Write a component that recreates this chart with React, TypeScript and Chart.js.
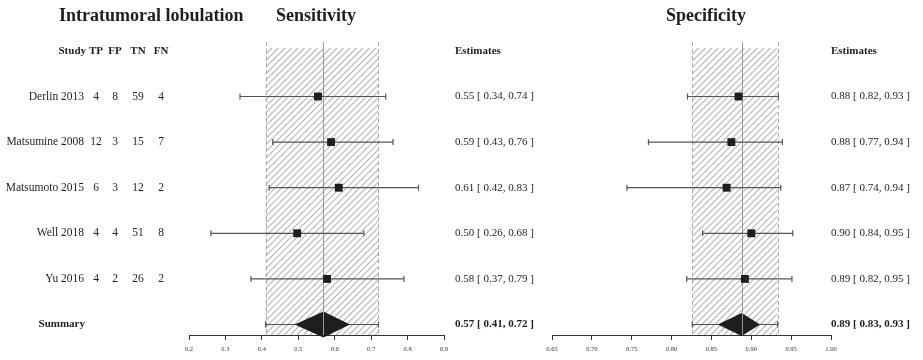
import React, { useEffect, useRef } from "react";
import { Chart, registerables } from "chart.js";

Chart.register(...registerables);

// ---------- data ----------
const studies = ["Derlin 2013", "Matsumine 2008", "Matsumoto 2015", "Well 2018", "Yu 2016"];
const tpCounts = [4, 12, 6, 4, 4];
const fpCounts = [8, 3, 3, 4, 2];
const tnCounts = [59, 15, 12, 51, 26];
const fnCounts = [4, 7, 2, 8, 2];

const sensEst = [0.554, 0.59, 0.611, 0.497, 0.579];
const sensLo = [0.34, 0.43, 0.42, 0.26, 0.37];
const sensHi = [0.74, 0.76, 0.83, 0.68, 0.79];
const sensSummary = [0.569, 0.41, 0.72]; // estimate, lower, upper
const sensDiamond = [0.49, 0.642];
const sensTicks = [0.2, 0.3, 0.4, 0.5, 0.6, 0.7, 0.8, 0.9];
const sensTickLabels = ["0.2", "0.3", "0.4", "0.5", "0.6", "0.7", "0.8", "0.9"];
const sensText = [
  "0.55 [ 0.34, 0.74 ]",
  "0.59 [ 0.43, 0.76 ]",
  "0.61 [ 0.42, 0.83 ]",
  "0.50 [ 0.26, 0.68 ]",
  "0.58 [ 0.37, 0.79 ]",
];
const sensSummaryText = "0.57 [ 0.41, 0.72 ]";

const specEst = [0.884, 0.875, 0.869, 0.9, 0.892];
const specLo = [0.82, 0.771, 0.744, 0.839, 0.819];
const specHi = [0.934, 0.939, 0.937, 0.952, 0.951];
const specSummary = [0.888, 0.826, 0.933];
const specDiamond = [0.858, 0.911];
const specTicks = [0.65, 0.7, 0.75, 0.8, 0.85, 0.9, 0.95, 1.0];
const specTickLabels = ["0.65", "0.70", "0.75", "0.80", "0.85", "0.90", "0.95", "1.00"];
const specText = [
  "0.88 [ 0.82, 0.93 ]",
  "0.88 [ 0.77, 0.94 ]",
  "0.87 [ 0.74, 0.94 ]",
  "0.90 [ 0.84, 0.95 ]",
  "0.89 [ 0.82, 0.95 ]",
];
const specSummaryText = "0.89 [ 0.83, 0.93 ]";

const tableHeader = ["Study", "TP", "FP", "TN", "FN"];
const panelTitles = ["Intratumoral lobulation", "Sensitivity", "Specificity"];

// ---------- styling ----------
const SERIF = "'Liberation Serif', 'DejaVu Serif', serif";
const INK = "#1e1e1e";
const BAR = "#555555";
const Y_MIN = -0.195;
const Y_MAX = 6.23;

type Panel = {
  est: number[];
  lo: number[];
  hi: number[];
  summary: number[];
  diamond: number[];
  diamondHalf: number;
  ticks: number[];
  tickLabels: string[];
  texts: string[];
  summaryText: string;
  padLeft: number;
  padRight: number;
  drawTable: boolean;
  titleX: number;
  title: string;
};

function makeForestPlugin(p: Panel) {
  return {
    id: "forest",
    beforeDatasetsDraw(chart: any) {
      const { ctx, chartArea } = chart;
      const { top, bottom } = chartArea;
      const x = chart.scales.x;
      const y = chart.scales.y;
      const xc = x.getPixelForValue(p.summary[0]);
      const xl = x.getPixelForValue(p.summary[1]);
      const xr = x.getPixelForValue(p.summary[2]);
      const hTop = top + 6;
      // hatch
      ctx.save();
      ctx.beginPath();
      ctx.rect(xl, hTop, xr - xl, bottom - hTop);
      ctx.clip();
      ctx.beginPath();
      ctx.strokeStyle = "#b4b4b4";
      ctx.lineWidth = 1.1;
      const h = bottom - hTop;
      for (let s = xl - h; s < xr + 2; s += 6.5) {
        ctx.moveTo(s, bottom);
        ctx.lineTo(s + h, hTop);
      }
      ctx.stroke();
      ctx.restore();
      // dashed borders
      ctx.save();
      ctx.strokeStyle = "#aaaaaa";
      ctx.lineWidth = 1;
      ctx.setLineDash([4, 3]);
      [xl, xr].forEach((px) => {
        ctx.beginPath();
        ctx.moveTo(Math.round(px) + 0.5, top);
        ctx.lineTo(Math.round(px) + 0.5, bottom);
        ctx.stroke();
      });
      ctx.restore();
      // summary CI line
      const ys = y.getPixelForValue(6);
      ctx.save();
      ctx.strokeStyle = BAR;
      ctx.lineWidth = 1.2;
      ctx.beginPath();
      ctx.moveTo(xl, ys);
      ctx.lineTo(xr, ys);
      ctx.moveTo(xl, ys - 3);
      ctx.lineTo(xl, ys + 3);
      ctx.moveTo(xr, ys - 3);
      ctx.lineTo(xr, ys + 3);
      ctx.stroke();
      // diamond
      const dl = x.getPixelForValue(p.diamond[0]);
      const dr = x.getPixelForValue(p.diamond[1]);
      ctx.fillStyle = INK;
      ctx.beginPath();
      ctx.moveTo(dl, ys);
      ctx.lineTo(xc, ys - p.diamondHalf);
      ctx.lineTo(dr, ys);
      ctx.lineTo(xc, ys + p.diamondHalf);
      ctx.closePath();
      ctx.fill();
      // center line
      ctx.strokeStyle = "#9a9a9a";
      ctx.lineWidth = 1;
      ctx.beginPath();
      ctx.moveTo(Math.round(xc) + 0.5, top);
      ctx.lineTo(Math.round(xc) + 0.5, bottom);
      ctx.stroke();
      ctx.restore();
    },
    afterDraw(chart: any) {
      const { ctx, chartArea } = chart;
      const y = chart.scales.y;
      const ex = chartArea.right + (p.drawTable ? 11 : 0);
      ctx.save();
      ctx.fillStyle = INK;
      // title(s)
      ctx.font = `bold 18px ${SERIF}`;
      ctx.textBaseline = "alphabetic";
      ctx.textAlign = "center";
      ctx.fillText(p.title, p.titleX, 21);
      if (p.drawTable) {
        ctx.textAlign = "left";
        ctx.fillText(panelTitles[0], 59, 21);
      }
      ctx.textBaseline = "middle";
      // estimates header
      const yh = y.getPixelForValue(0);
      ctx.textAlign = "left";
      ctx.font = `bold 11px ${SERIF}`;
      ctx.fillText("Estimates", ex, yh);
      ctx.font = `11px ${SERIF}`;
      p.texts.forEach((t, i) => ctx.fillText(t, ex, y.getPixelForValue(i + 1)));
      ctx.font = `bold 11px ${SERIF}`;
      ctx.fillText(p.summaryText, ex, y.getPixelForValue(6));
      if (p.drawTable) {
        const colX = [96, 115, 138, 161];
        ctx.font = `bold 11px ${SERIF}`;
        ctx.textAlign = "right";
        ctx.fillText(tableHeader[0], 86, yh);
        ctx.textAlign = "center";
        for (let c = 1; c < 5; c++) ctx.fillText(tableHeader[c], colX[c - 1], yh);
        ctx.font = `11.5px ${SERIF}`;
        studies.forEach((s, i) => {
          const yy = y.getPixelForValue(i + 1);
          ctx.textAlign = "right";
          ctx.fillText(s, 84, yy);
          ctx.textAlign = "center";
          const vals = [tpCounts[i], fpCounts[i], tnCounts[i], fnCounts[i]];
          vals.forEach((v, c) => ctx.fillText(String(v), colX[c], yy));
        });
        ctx.font = `bold 11px ${SERIF}`;
        ctx.textAlign = "right";
        ctx.fillText("Summary", 85, y.getPixelForValue(6));
      }
      ctx.restore();
    },
  };
}

function buildChart(canvas: HTMLCanvasElement, p: Panel) {
  const datasets: any[] = [
    {
      type: "scatter",
      data: p.est.map((v, i) => ({ x: v, y: i + 1 })),
      pointStyle: "rect",
      pointRadius: 5.6,
      pointHoverRadius: 5.6,
      backgroundColor: INK,
      borderColor: INK,
      borderWidth: 0,
      order: 0,
    },
  ];
  p.lo.forEach((lo, i) => {
    datasets.push({
      type: "line",
      data: [
        { x: lo, y: i + 1 },
        { x: p.hi[i], y: i + 1 },
      ],
      showLine: true,
      borderColor: BAR,
      borderWidth: 1.2,
      pointStyle: "line",
      rotation: 90,
      pointRadius: 3,
      pointHoverRadius: 3,
      pointBorderColor: BAR,
      pointBorderWidth: 1.2,
      order: 1,
    });
  });
  return new Chart(canvas, {
    type: "scatter",
    data: { datasets },
    options: {
      animation: false,
      responsive: false,
      devicePixelRatio: 1,
      events: [],
      layout: { padding: { left: p.padLeft, right: p.padRight, top: 42, bottom: 0 } },
      plugins: { legend: { display: false }, title: { display: false }, tooltip: { enabled: false } },
      scales: {
        x: {
          type: "linear",
          position: "bottom",
          min: p.ticks[0],
          max: p.ticks[p.ticks.length - 1],
          afterBuildTicks: (s: any) => {
            s.ticks = p.ticks.map((v) => ({ value: v }));
          },
          afterFit: (s: any) => {
            s.height = 25;
          },
          grid: {
            display: true,
            drawOnChartArea: false,
            drawTicks: true,
            tickLength: 5,
            color: "#333",
            lineWidth: 1,
          },
          border: { display: true, color: "#333", width: 1 },
          ticks: {
            autoSkip: false,
            maxRotation: 0,
            padding: 5,
            color: "#333",
            font: { family: SERIF, size: 6.5 },
            callback: (_v: any, idx: number) => p.tickLabels[idx],
          },
        },
        y: {
          type: "linear",
          display: false,
          reverse: true,
          min: Y_MIN,
          max: Y_MAX,
        },
      },
    },
    plugins: [makeForestPlugin(p)],
  } as any);
}

export default function App() {
  const leftRef = useRef<HTMLCanvasElement>(null);
  const rightRef = useRef<HTMLCanvasElement>(null);

  useEffect(() => {
    const left: Panel = {
      est: sensEst,
      lo: sensLo,
      hi: sensHi,
      summary: sensSummary,
      diamond: sensDiamond,
      diamondHalf: 13,
      ticks: sensTicks,
      tickLabels: sensTickLabels,
      texts: sensText,
      summaryText: sensSummaryText,
      padLeft: 189,
      padRight: 96,
      drawTable: true,
      titleX: 316,
      title: panelTitles[1],
    };
    const right: Panel = {
      est: specEst,
      lo: specLo,
      hi: specHi,
      summary: specSummary,
      diamond: specDiamond,
      diamondHalf: 11.5,
      ticks: specTicks,
      tickLabels: specTickLabels,
      texts: specText,
      summaryText: specSummaryText,
      padLeft: 12,
      padRight: 92,
      drawTable: false,
      titleX: 166,
      title: panelTitles[2],
    };
    const c1 = buildChart(leftRef.current!, left);
    const c2 = buildChart(rightRef.current!, right);
    return () => {
      c1.destroy();
      c2.destroy();
    };
  }, []);

  return (
    <div style={{ position: "absolute", left: 0, top: 0, width: 923, height: 360, background: "#fff", overflow: "hidden" }}>
      <canvas ref={leftRef} width={540} height={360} style={{ position: "absolute", left: 0, top: 0, width: 540, height: 360 }} />
      <canvas ref={rightRef} width={383} height={360} style={{ position: "absolute", left: 540, top: 0, width: 383, height: 360 }} />
    </div>
  );
}
